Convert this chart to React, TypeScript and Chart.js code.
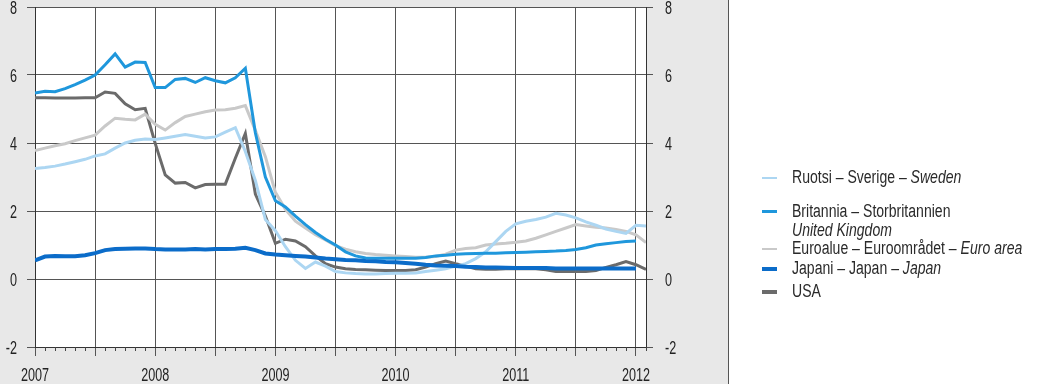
import React, { useEffect, useRef } from 'react';
import { Chart, registerables } from 'chart.js';

Chart.register(...registerables);

// Months since January 2007 (0 = Jan 2007, 61 = Feb 2012)
const months: number[] = [
  0, 1, 2, 3, 4, 5, 6, 7, 8, 9, 10, 11,
  12, 13, 14, 15, 16, 17, 18, 19, 20, 21, 22, 23,
  24, 25, 26, 27, 28, 29, 30, 31, 32, 33, 34, 35,
  36, 37, 38, 39, 40, 41, 42, 43, 44, 45, 46, 47,
  48, 49, 50, 51, 52, 53, 54, 55, 56, 57, 58, 59,
  60, 61,
];

const yearLabels: string[] = ['2007', '2008', '2009', '2010', '2011', '2012'];
const yearMonths: number[] = [0, 12, 24, 36, 48, 60];
const gridMonths: number[] = [0, 6, 12, 18, 24, 30, 36, 42, 48, 54, 60];
const yTicks: number[] = [-2, 0, 2, 4, 6, 8];

const sweden: (number | null)[] = [
  3.25, 3.28, 3.32, 3.38, 3.45, 3.52, 3.62, 3.68, 3.85, 4.0, 4.08, 4.12,
  4.1, 4.15, 4.2, 4.25, 4.2, 4.15, 4.18, 4.32, 4.45, 3.75, 2.9, 1.75,
  1.42, 0.95, 0.55, 0.31, 0.5, 0.38, 0.22, 0.18, 0.16, 0.15, 0.15, 0.16,
  0.17, 0.17, 0.18, 0.22, 0.26, 0.3, 0.38, 0.45, 0.6, 0.8, 1.1, 1.4,
  1.62, 1.7, 1.75, 1.82, 1.93, 1.88, 1.8, 1.68, 1.58, 1.47, 1.4, 1.34,
  1.58, 1.56,
];

const unitedKingdom: (number | null)[] = [
  5.47, 5.52, 5.51, 5.6, 5.72, 5.85, 6.0, 6.3, 6.62, 6.23, 6.38, 6.37,
  5.63, 5.63, 5.87, 5.9, 5.78, 5.92, 5.83, 5.77, 5.92, 6.2, 4.3, 3.0,
  2.3, 2.12, 1.85, 1.6, 1.37, 1.17, 1.0, 0.8, 0.68, 0.62, 0.61, 0.61,
  0.61, 0.61, 0.61, 0.63, 0.68, 0.7, 0.73, 0.74, 0.75, 0.76, 0.76, 0.77,
  0.78, 0.79, 0.8, 0.81, 0.82, 0.84, 0.87, 0.92, 1.0, 1.04, 1.07, 1.1,
  1.12, null,
];

const euroArea: (number | null)[] = [
  3.78, 3.85, 3.92, 3.98, 4.07, 4.15, 4.23, 4.5, 4.73, 4.7, 4.68, 4.85,
  4.55, 4.38, 4.6, 4.78, 4.85, 4.92, 4.97, 4.98, 5.02, 5.1, 4.37, 3.6,
  2.55, 2.05, 1.7, 1.5, 1.3, 1.15, 0.98, 0.88, 0.8, 0.75, 0.72, 0.7,
  0.68, 0.66, 0.64, 0.64, 0.66, 0.73, 0.85, 0.9, 0.92, 1.0, 1.03, 1.05,
  1.08, 1.12, 1.2, 1.3, 1.4, 1.5, 1.6, 1.56, 1.52, 1.5, 1.46, 1.4,
  1.3, 1.07,
];

const japan: (number | null)[] = [
  0.55, 0.66, 0.68, 0.67, 0.67, 0.7, 0.76, 0.85, 0.88, 0.89, 0.9, 0.9,
  0.88, 0.87, 0.87, 0.87, 0.88, 0.87, 0.88, 0.88, 0.89, 0.92, 0.85, 0.75,
  0.72, 0.7, 0.68, 0.66, 0.63, 0.6, 0.58, 0.56, 0.55, 0.53, 0.52, 0.5,
  0.49, 0.47, 0.45, 0.42, 0.4, 0.39, 0.38, 0.36, 0.35, 0.34, 0.34, 0.33,
  0.32, 0.32, 0.32, 0.32, 0.31, 0.31, 0.31, 0.31, 0.31, 0.31, 0.31, 0.31,
  0.31, null,
];

const usa: (number | null)[] = [
  5.33, 5.33, 5.32, 5.32, 5.32, 5.33, 5.33, 5.5, 5.46, 5.15, 4.98, 5.02,
  3.99, 3.06, 2.82, 2.84, 2.68, 2.78, 2.79, 2.79, 3.55, 4.28, 2.5, 1.85,
  1.05, 1.17, 1.12, 0.95, 0.68, 0.45, 0.35, 0.3, 0.28, 0.27, 0.26, 0.25,
  0.25, 0.25, 0.27, 0.35, 0.45, 0.53, 0.45, 0.38, 0.3, 0.29, 0.29, 0.3,
  0.3, 0.31, 0.3, 0.27, 0.22, 0.22, 0.22, 0.22, 0.25, 0.34, 0.42, 0.51,
  0.42, 0.28,
];

const COLORS = {
  sweden: '#acd6f2',
  uk: '#1f97dc',
  euro: '#c9c9c9',
  japan: '#0b6cc9',
  usa: '#6b6b6b',
};

const FONT = '"Liberation Sans", Arial, "Roboto", sans-serif';
const AXIS_FONT_SIZE = 18;
const AXIS_SQUEEZE = 0.7;
const LEGEND_SQUEEZE = 0.78;

const legendItems = [
  { color: COLORS.sweden, width: 2, plain: 'Ruotsi – Sverige – ', italic: 'Sweden', second: '' },
  { color: COLORS.uk, width: 3, plain: 'Britannia – Storbritannien', italic: '', second: 'United Kingdom' },
  { color: COLORS.euro, width: 2, plain: 'Euroalue – Euroområdet – ', italic: 'Euro area', second: '' },
  { color: COLORS.japan, width: 4, plain: 'Japani – Japan – ', italic: 'Japan', second: '' },
  { color: COLORS.usa, width: 4, plain: 'USA', italic: '', second: '' },
];
const legendTops = [168, 202, 239, 259, 282];

const toPoints = (vals: (number | null)[]) =>
  months.map((m, i) => ({ x: m, y: vals[i] }));

export default function App() {
  const ref = useRef<HTMLCanvasElement>(null);

  useEffect(() => {
    document.body.style.margin = '0';
    const canvas = ref.current;
    if (!canvas) return;

    const drawSqueezed = (ctx: any, text: string, x: number, y: number, align: string) => {
      ctx.save();
      ctx.translate(x, y);
      ctx.scale(AXIS_SQUEEZE, 1);
      ctx.textAlign = align;
      ctx.textBaseline = 'alphabetic';
      ctx.fillText(text, 0, 0);
      ctx.restore();
    };

    const plotBg = {
      id: 'plotBg',
      beforeDraw(chart: any) {
        const { ctx, chartArea: a } = chart;
        ctx.save();
        ctx.fillStyle = '#ffffff';
        ctx.fillRect(a.left, a.top, a.right - a.left, a.bottom - a.top);
        ctx.restore();
      },
      afterDraw(chart: any) {
        const { ctx, chartArea: a } = chart;
        const xs = chart.scales.x;
        const ys = chart.scales.y;
        ctx.save();
        // monthly minor ticks
        ctx.strokeStyle = '#444';
        ctx.lineWidth = 1;
        months.forEach((m) => {
          if (m % 6 === 0) return;
          const px = Math.round(xs.getPixelForValue(m)) + 0.5;
          ctx.beginPath();
          ctx.moveTo(px, a.bottom);
          ctx.lineTo(px, a.bottom + 4);
          ctx.stroke();
        });
        // axis labels (condensed)
        ctx.fillStyle = '#222';
        ctx.font = `${AXIS_FONT_SIZE}px ${FONT}`;
        yearMonths.forEach((m, i) => {
          drawSqueezed(ctx, yearLabels[i], xs.getPixelForValue(m), a.bottom + 34, 'center');
        });
        yTicks.forEach((v) => {
          const py = ys.getPixelForValue(v) + 6.5;
          drawSqueezed(ctx, String(v), a.left - 18, py, 'right');
          drawSqueezed(ctx, String(v), a.right + 19, py, 'left');
        });
        ctx.restore();
      },
    };

    const mk = (label: string, data: (number | null)[], color: string, w: number) => ({
      label,
      data: toPoints(data),
      borderColor: color,
      backgroundColor: color,
      borderWidth: w,
      pointRadius: 0,
      tension: 0,
      spanGaps: false,
    });

    const chart = new Chart(canvas, {
      type: 'line',
      data: {
        datasets: [
          mk('Japan', japan, COLORS.japan, 4),
          mk('United Kingdom', unitedKingdom, COLORS.uk, 3),
          mk('Sweden', sweden, COLORS.sweden, 3),
          mk('Euro area', euroArea, COLORS.euro, 3),
          mk('USA', usa, COLORS.usa, 3),
        ],
      },
      options: {
        responsive: false,
        animation: false,
        layout: { padding: { top: 7, left: 0, right: 0, bottom: 0 } },
        plugins: { legend: { display: false }, tooltip: { enabled: false } },
        scales: {
          x: {
            type: 'linear',
            min: 0,
            max: 61,
            afterBuildTicks: (s: any) => {
              s.ticks = gridMonths.map((v) => ({ value: v }));
            },
            afterFit: (s: any) => {
              s.height = 37;
            },
            ticks: { display: false },
            grid: { color: '#555', lineWidth: 1, tickLength: 9, drawTicks: true },
            border: { color: '#333', width: 1 },
          },
          y: {
            position: 'left',
            min: -2,
            max: 8,
            afterBuildTicks: (s: any) => {
              s.ticks = yTicks.map((v) => ({ value: v }));
            },
            afterFit: (s: any) => {
              s.width = 35;
            },
            ticks: { display: false },
            grid: { color: '#555', lineWidth: 1, tickLength: 8 },
            border: { color: '#333', width: 1 },
          },
          y2: {
            position: 'right',
            min: -2,
            max: 8,
            afterBuildTicks: (s: any) => {
              s.ticks = yTicks.map((v) => ({ value: v }));
            },
            afterFit: (s: any) => {
              s.width = 393;
            },
            ticks: { display: false },
            grid: { drawOnChartArea: false, color: '#555', lineWidth: 1, tickLength: 7 },
            border: { color: '#333', width: 1 },
          },
        },
      },
      plugins: [plotBg],
    } as any);

    return () => chart.destroy();
  }, []);

  return (
    <div style={{ position: 'relative', width: 1039, height: 384, background: '#ffffff', overflow: 'hidden' }}>
      <div
        style={{
          position: 'absolute',
          left: 0,
          top: 0,
          width: 728,
          height: 384,
          background: '#e8e8e8',
          borderRight: '1px solid #555',
        }}
      />
      <canvas
        ref={ref}
        width={1039}
        height={384}
        style={{ position: 'absolute', left: 0, top: 0, width: 1039, height: 384 }}
      />
      {legendItems.map((it, i) => (
        <div
          key={i}
          style={{
            position: 'absolute',
            left: 762,
            top: legendTops[i],
            fontFamily: FONT,
            fontSize: 18,
            lineHeight: '19px',
            color: '#2a2a2a',
            whiteSpace: 'nowrap',
          }}
        >
          <span
            style={{
              position: 'absolute',
              left: 0,
              top: 9.5 - it.width / 2,
              width: 15,
              height: it.width,
              background: it.color,
            }}
          />
          <div style={{ marginLeft: 30, transform: `scaleX(${LEGEND_SQUEEZE})`, transformOrigin: 'left center' }}>
            {it.plain}
            {it.italic ? <i>{it.italic}</i> : null}
          </div>
          {it.second ? (
            <div style={{ marginLeft: 30, transform: `scaleX(${LEGEND_SQUEEZE})`, transformOrigin: 'left center' }}>
              <i>{it.second}</i>
            </div>
          ) : null}
        </div>
      ))}
    </div>
  );
}
